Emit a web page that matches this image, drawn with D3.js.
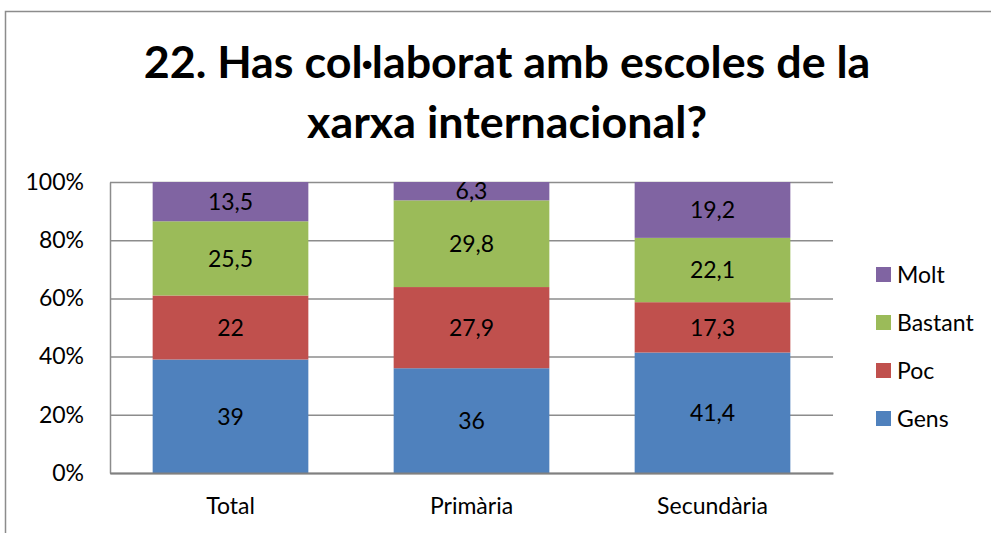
<!DOCTYPE html>
<html>
<head>
<meta charset="utf-8">
<script src="https://cdn.jsdelivr.net/npm/d3@7"></script>
<style>
  body { margin: 0; background: #fff; }
  svg { display: block; font-family: Lato, "Open Sans", sans-serif; }
</style>
</head>
<body>
<svg id="chart" width="991" height="533"></svg>
<script>
// data
var categories = ["Total", "Primària", "Secundària"];
var seriesNames = ["Gens", "Poc", "Bastant", "Molt"];
var gens = [39, 36, 41.4];
var poc = [22, 27.9, 17.3];
var bastant = [25.5, 29.8, 22.1];
var molt = [13.5, 6.3, 19.2];
var yTicks = [0, 0.2, 0.4, 0.6, 0.8, 1];
var titleLines = ["22. Has col·laborat amb escoles de la", "xarxa internacional?"];

var colors = ["#4F81BD", "#C0504D", "#9BBB59", "#8064A2"];

var rows = categories.map(function (c, i) {
  return { cat: c, Gens: gens[i], Poc: poc[i], Bastant: bastant[i], Molt: molt[i] };
});

var svg = d3.select("#chart");
var labelSize = 23;

// outer frame
svg.append("rect")
  .attr("x", 5.5).attr("y", 11.5)
  .attr("width", 1100).attr("height", 700)
  .attr("fill", "none").attr("stroke", "#8c8c8c").attr("stroke-width", 1.5);

// title, sized to fit
var title = svg.append("g");
var t1 = title.append("text")
  .attr("x", 507).attr("y", 78)
  .attr("text-anchor", "middle")
  .attr("font-weight", "bold")
  .attr("font-size", 44)
  .attr("fill", "#000")
  .text(titleLines[0]);
var fs = 44 * 727 / t1.node().getComputedTextLength();
t1.attr("font-size", fs);
title.append("text")
  .attr("x", 507).attr("y", 138)
  .attr("text-anchor", "middle")
  .attr("font-weight", "bold")
  .attr("font-size", fs)
  .attr("fill", "#000")
  .text(titleLines[1]);

var plotLeft = 110, plotRight = 833, plotTop = 182, plotBottom = 473;

var x = d3.scaleBand()
  .domain(categories)
  .range([plotLeft, plotRight])
  .paddingInner(0.354)
  .paddingOuter(0.177);

var y = d3.scaleLinear().domain([0, 100]).range([plotBottom, plotTop]);
var yPct = d3.scaleLinear().domain([0, 1]).range([plotBottom, plotTop]);

// gridlines + y axis
var yAxis = svg.append("g")
  .attr("transform", "translate(" + plotLeft + ",0)")
  .call(d3.axisLeft(yPct)
    .tickValues(yTicks)
    .tickFormat(d3.format(".0%"))
    .tickSizeInner(-(plotRight - plotLeft))
    .tickSizeOuter(0)
    .tickPadding(26));
yAxis.selectAll(".tick line").attr("stroke", "#8c8c8c").attr("stroke-width", 1.5);
yAxis.select(".domain").attr("stroke", "#8c8c8c").attr("stroke-width", 1.5);
yAxis.selectAll(".tick text")
  .attr("font-size", labelSize)
  .attr("font-family", "Lato, 'Open Sans', sans-serif")
  .attr("fill", "#000");

// stacked bars
var stack = d3.stack().keys(seriesNames);
var layers = stack(rows);

var fmt = function (v) { return String(v).replace(".", ","); };

var layerG = svg.selectAll("g.layer")
  .data(layers)
  .join("g")
  .attr("class", "layer")
  .attr("fill", function (d, i) { return colors[i]; });

layerG.selectAll("rect")
  .data(function (d) { return d; })
  .join("rect")
  .attr("x", function (d) { return x(d.data.cat); })
  .attr("width", x.bandwidth())
  .attr("y", function (d) { return y(d[1]); })
  .attr("height", function (d) { return y(d[0]) - y(d[1]); });

layerG.selectAll("text")
  .data(function (d) { return d.map(function (p) { return { p: p, key: d.key }; }); })
  .join("text")
  .attr("x", function (d) { return x(d.p.data.cat) + x.bandwidth() / 2; })
  .attr("y", function (d) { return (y(d.p[0]) + y(d.p[1])) / 2; })
  .attr("dy", "0.36em")
  .attr("text-anchor", "middle")
  .attr("font-size", labelSize)
  .attr("fill", "#000")
  .text(function (d) { return fmt(d.p.data[d.key]); });

// x axis
var xAxis = svg.append("g")
  .attr("transform", "translate(0," + plotBottom + ")")
  .call(d3.axisBottom(x).tickSize(0).tickPadding(25));
xAxis.select(".domain").attr("stroke", "#808080").attr("stroke-width", 2);
xAxis.selectAll(".tick text")
  .attr("font-size", labelSize)
  .attr("font-family", "Lato, 'Open Sans', sans-serif")
  .attr("fill", "#000");

// legend
var legendNames = seriesNames.slice().reverse();
var ly = d3.scalePoint().domain(legendNames).range([274.5, 418.5]);
var legend = svg.append("g");
var li = legend.selectAll("g")
  .data(legendNames)
  .join("g")
  .attr("transform", function (d) { return "translate(876," + ly(d) + ")"; });
li.append("rect")
  .attr("x", 0).attr("y", -7.5)
  .attr("width", 15).attr("height", 15)
  .attr("fill", function (d) { return colors[seriesNames.indexOf(d)]; });
li.append("text")
  .attr("x", 21).attr("y", 0)
  .attr("dy", "0.36em")
  .attr("font-size", labelSize)
  .attr("fill", "#000")
  .text(function (d) { return d; });
</script>
</body>
</html>
